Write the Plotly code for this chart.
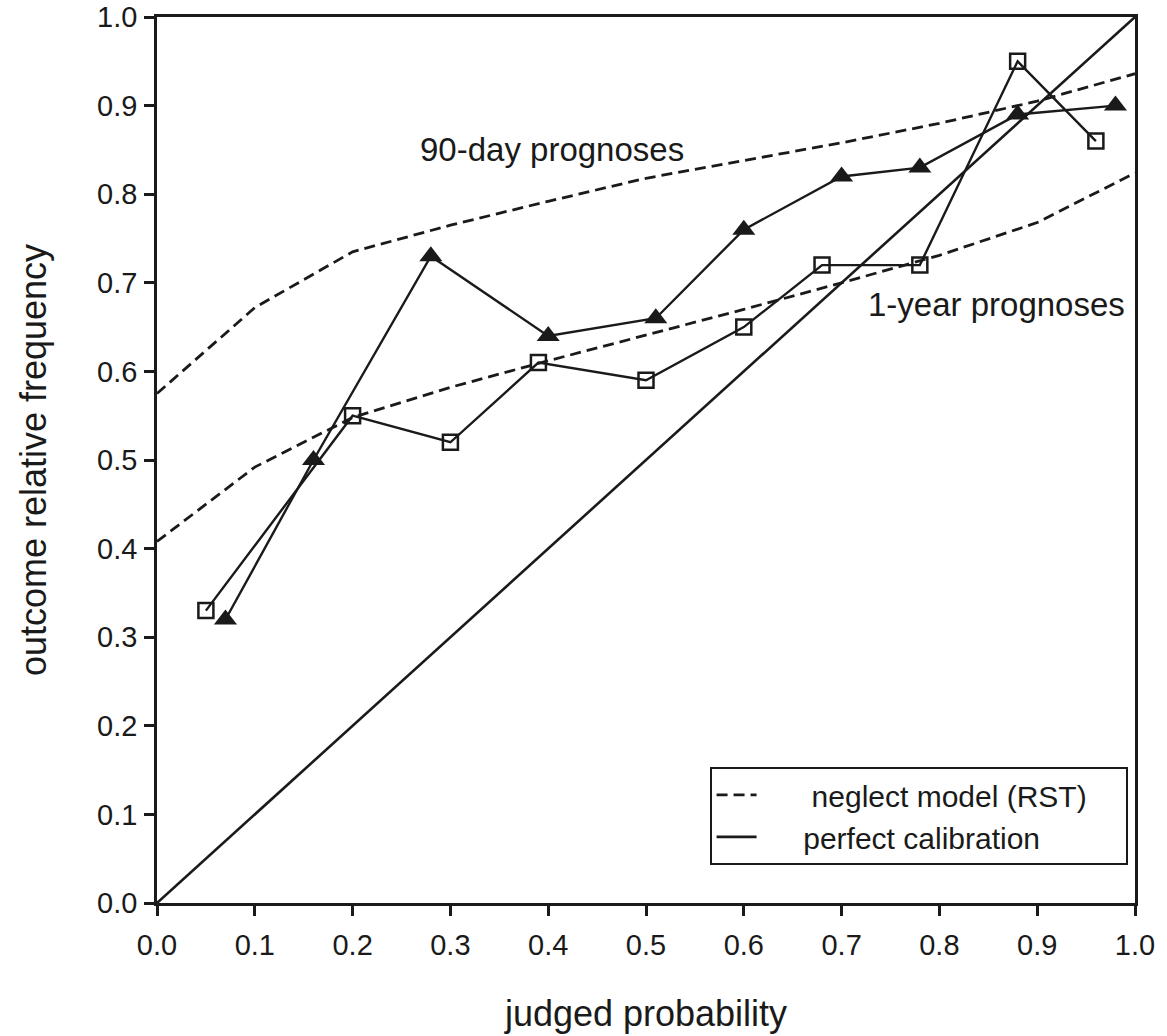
import plotly.graph_objects as go

# ---- data ----
grid_x = [0.0, 0.1, 0.2, 0.3, 0.4, 0.5, 0.6, 0.7, 0.8, 0.9, 1.0]
rst_90day = [0.575, 0.672, 0.735, 0.765, 0.792, 0.818, 0.838, 0.858, 0.880, 0.905, 0.936]
rst_1year = [0.408, 0.492, 0.548, 0.582, 0.612, 0.641, 0.670, 0.700, 0.731, 0.768, 0.824]

tri_x = [0.07, 0.16, 0.28, 0.40, 0.51, 0.60, 0.70, 0.78, 0.88, 0.98]
tri_y = [0.32, 0.50, 0.73, 0.64, 0.66, 0.76, 0.82, 0.83, 0.89, 0.90]

sq_x = [0.05, 0.20, 0.30, 0.39, 0.50, 0.60, 0.68, 0.78, 0.88, 0.96]
sq_y = [0.33, 0.55, 0.52, 0.61, 0.59, 0.65, 0.72, 0.72, 0.95, 0.86]

diag = [0.0, 1.0]
ticks = [0.0, 0.1, 0.2, 0.3, 0.4, 0.5, 0.6, 0.7, 0.8, 0.9, 1.0]

FONT = "Liberation Sans, Arial, Helvetica, sans-serif"
INK = "#1a1a1a"
NB = "\u00a0"
DASH = "11px,6px"

fig = go.Figure()

fig.add_trace(go.Scatter(
    x=grid_x, y=rst_90day, mode="lines",
    line=dict(color=INK, width=2.8, dash=DASH),
    name=NB * 6 + "neglect model (RST)" + NB * 4, showlegend=True, legendrank=1))
fig.add_trace(go.Scatter(
    x=grid_x, y=rst_1year, mode="lines",
    line=dict(color=INK, width=2.8, dash=DASH),
    name="1-year RST", showlegend=False))
fig.add_trace(go.Scatter(
    x=diag, y=diag, mode="lines",
    line=dict(color=INK, width=2.6),
    name=NB * 5 + "perfect calibration", showlegend=True, legendrank=2))
fig.add_trace(go.Scatter(
    x=tri_x, y=tri_y, mode="lines+markers",
    line=dict(color=INK, width=2.4),
    marker=dict(symbol="triangle-up", size=20, color=INK, line=dict(width=0)),
    name="90-day prognoses", showlegend=False))
fig.add_trace(go.Scatter(
    x=sq_x, y=sq_y, mode="lines+markers",
    line=dict(color=INK, width=2.4),
    marker=dict(symbol="square-open", size=15, color=INK, line=dict(width=2.5)),
    name="1-year prognoses", showlegend=False))

fig.add_annotation(x=0.267, y=0.85, xref="x", yref="y", text="90-day prognoses",
                   showarrow=False, xanchor="left", yanchor="middle",
                   font=dict(family=FONT, size=33, color=INK))
fig.add_annotation(x=0.725, y=0.675, xref="x", yref="y", text="1-year prognoses",
                   showarrow=False, xanchor="left", yanchor="middle",
                   font=dict(family=FONT, size=33, color=INK))

axis_common = dict(
    range=[0, 1], tickvals=ticks, tickformat=".1f",
    showgrid=False, zeroline=False,
    showline=True, linecolor=INK, linewidth=2.5, mirror=True,
    ticks="outside", ticklen=10, tickwidth=2.5, tickcolor=INK,
    tickfont=dict(family=FONT, size=29, color=INK),
)

fig.update_xaxes(**axis_common, ticklabelstandoff=4,
                 title=dict(text="judged probability", standoff=42,
                            font=dict(family=FONT, size=36, color=INK)))
fig.update_yaxes(**axis_common, ticklabelstandoff=1,
                 title=dict(text="outcome relative frequency", standoff=40,
                            font=dict(family=FONT, size=36, color=INK)))

fig.update_layout(
    width=1167, height=1036,
    margin=dict(l=157, r=32, t=17, b=133, autoexpand=False),
    paper_bgcolor="white", plot_bgcolor="white",
    font=dict(family=FONT, color=INK),
    legend=dict(x=0.565, y=0.1536, xanchor="left", yanchor="top",
                bgcolor="white", bordercolor=INK, borderwidth=2,
                font=dict(family=FONT, size=30, color=INK),
                traceorder="normal", itemwidth=40),
)

fig.write_html("out.html")
